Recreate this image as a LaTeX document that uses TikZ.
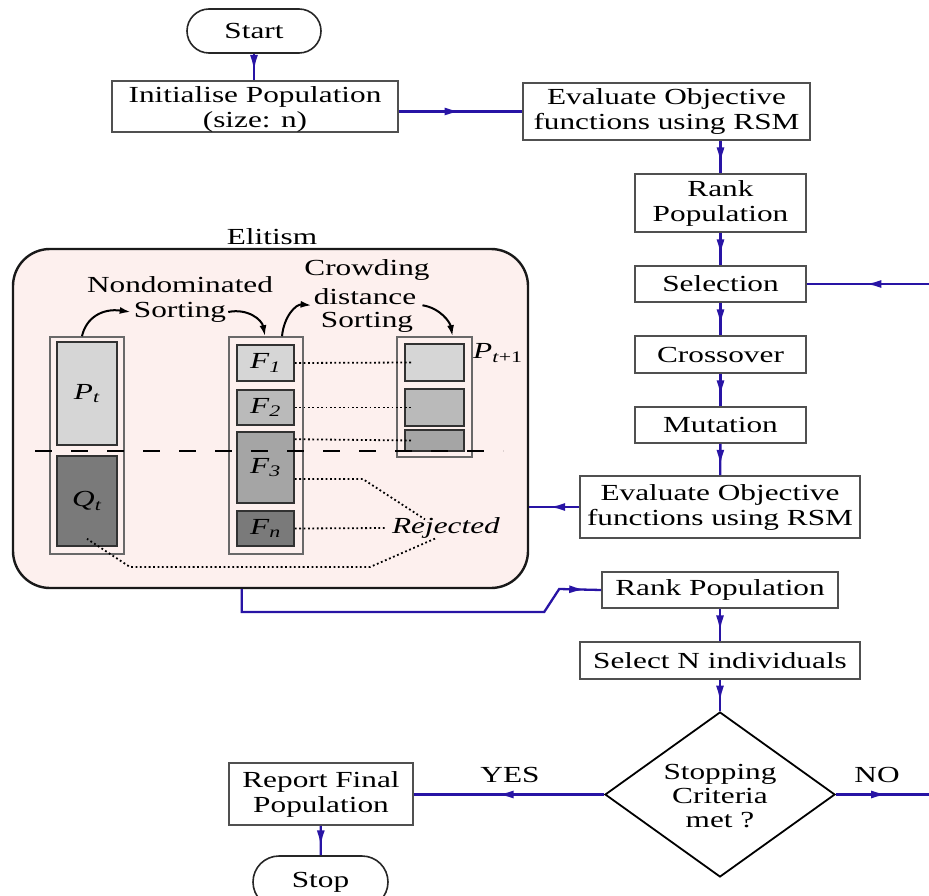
\documentclass[tikz,border=0pt]{standalone}
\usepackage{fontspec}
\setmainfont[FakeStretch=1.36]{Liberation Serif}
\usetikzlibrary{arrows.meta,decorations.markings,shapes.geometric,calc}
\definecolor{flowblue}{RGB}{40,20,165}
\definecolor{boxgray}{RGB}{80,80,80}
\definecolor{colgray}{RGB}{105,105,105}
\definecolor{cellgray}{RGB}{50,50,50}
\definecolor{elitfill}{RGB}{253,240,238}
\definecolor{gA}{RGB}{214,214,214}
\definecolor{gB}{RGB}{186,186,186}
\definecolor{gC}{RGB}{165,165,165}
\definecolor{gD}{RGB}{122,122,122}
\begin{document}
\begin{tikzpicture}[x=1pt,y=-1pt,
  every node/.style={font=\fontsize{23}{25}\selectfont, inner sep=0pt},
  box/.style={draw=boxgray, line width=1.6pt, fill=white, align=center},
  term/.style={draw=black!85, line width=1.6pt, fill=white},
  flow/.style={draw=flowblue, line width=2.3pt},
  midarrow/.style={postaction={decorate}, decoration={markings, mark=at position #1 with {\arrow{Latex[length=16pt,width=8pt]}}}},
  colbox/.style={draw=colgray, line width=1.6pt},
  cell/.style={draw=cellgray, line width=1.6pt},
  dotline/.style={black, line width=1.8pt, dash pattern=on 1.8pt off 2.6pt},
  curvearrow/.style={black, line width=2pt, -{Latex[length=11pt,width=7pt]}},
]
\useasboundingbox (0,0) rectangle (929,896);

% ---------- Elitism container ----------
\node[draw=black!90, line width=2.4pt, fill=elitfill, rounded corners=37pt,
      minimum width=515pt, minimum height=339pt] (elit) at (270.5,418.5) {};
\node (elitlbl) at (272,237) {Elitism};

% columns
\node[colbox, minimum width=74pt, minimum height=217pt] (ptcol) at (87,445.5) {};
\node[cell, fill=gA, minimum width=60pt, minimum height=103pt] (pt) at (87,393.5) {\textit{P}\textsubscript{\textit{t}}};
\node[cell, fill=gD, minimum width=60pt, minimum height=90pt] (qt) at (87,501) {\textit{Q}\textsubscript{\textit{t}}};

\node[colbox, minimum width=74pt, minimum height=217pt] (fcol) at (266,445.5) {};
\node[cell, fill=gA, minimum width=57pt, minimum height=36pt] (f1) at (265.5,363) {\textit{F}\textsubscript{\textit{1}}};
\node[cell, fill=gB, minimum width=57pt, minimum height=35pt] (f2) at (265.5,407.5) {\textit{F}\textsubscript{\textit{2}}};
\node[cell, fill=gC, minimum width=57pt, minimum height=71pt] (f3) at (265.5,467.5) {\textit{F}\textsubscript{\textit{3}}};
\node[cell, fill=gD, minimum width=57pt, minimum height=35pt] (fn) at (265.5,528.5) {\textit{F}\textsubscript{\textit{n}}};

\node[colbox, minimum width=75pt, minimum height=120pt] (pcol) at (434.5,397) {};
\node[cell, fill=gA, minimum width=59pt, minimum height=37pt] (p1) at (434.5,362.5) {};
\node[cell, fill=gB, minimum width=59pt, minimum height=37pt] (p2) at (434.5,407.5) {};
\node[cell, fill=gC, minimum width=59pt, minimum height=21pt] (p3) at (434.5,440.5) {};
\node[anchor=west] (pnext) at (473,353) {\textit{P}\textsubscript{\textit{t}+1}};

% sorting labels
\node (nd1) at (180,285) {Nondominated};
\node (nd2) at (180,312) {Sorting};
\node (cd1) at (367,270) {Crowding};
\node (cd2) at (365,297) {distance};
\node (cd3) at (367,322) {Sorting};

\draw[curvearrow] ([xshift=-5pt]ptcol.north) .. controls (86,318) and (102,308) .. ([xshift=-3pt]nd2.west);
\draw[curvearrow] ([xshift=2pt]nd2.east) .. controls (248,308) and (262,320) .. ([xshift=-1pt]fcol.north);
\draw[curvearrow] ([xshift=16pt]fcol.north) .. controls (284,316) and (296,304) .. ([xshift=-2pt]cd2.south west);
\draw[curvearrow] ([xshift=6pt]cd2.south east) .. controls (440,308) and (450,322) .. ([xshift=18pt]pcol.north);

% rejected
\node (rej) at (446,528) {\textit{Rejected}};
\draw[dotline] (f1.east) -- ([xshift=7pt]p1.west);
\draw[dotline] (f2.east) -- ([xshift=7pt]p2.west);
\draw[dotline] ([yshift=-8pt]f3.north east) -- ([xshift=7pt]p3.west);
\draw[dotline] ([yshift=-11.5pt]f3.east) -- ++(68,0) -- ([xshift=-21pt,yshift=-2pt]rej.north);
\draw[dotline] (fn.east) -- ([xshift=-5pt]rej.west);
\draw[dotline] ([xshift=-11pt]rej.south) -- (370,567) -- (130,567) -- ([yshift=8pt]qt.south);

% dashed cut line
\coordinate (dashL) at (35,451);
\coordinate (dashR) at (503,451);
\draw[black, line width=2.6pt, dash pattern=on 17pt off 19pt] (dashL) -- (dashR);

% ---------- flowchart ----------
\node[term, rounded corners=22pt, minimum width=134pt, minimum height=44pt] (start) at (254,31) {Start};
\node[box, minimum width=286pt, minimum height=51pt] (init) at (255,106.5) {};
\node[align=center] (inittxt) at (255,109) {Initialise Population\\(size: n)};
\node[box, minimum width=287pt, minimum height=57pt] (eval1) at (666.5,111.5) {Evaluate Objective\\functions using RSM};
\node[box, minimum width=171pt, minimum height=58pt] (rank1) at (720.5,203) {Rank\\Population};
\node[box, minimum width=171pt, minimum height=36pt] (sel) at (720.5,284) {Selection};
\node[box, minimum width=171pt, minimum height=37pt] (cross) at (720.5,354.5) {Crossover};
\node[box, minimum width=171pt, minimum height=36pt] (mut) at (720.5,425) {Mutation};
\node[box, minimum width=280pt, minimum height=62pt] (eval2) at (720,507) {Evaluate Objective\\functions using RSM};
\node[box, minimum width=236pt, minimum height=36pt] (rank2) at (720,590) {Rank Population};
\node[box, minimum width=280pt, minimum height=37pt] (seln) at (720,660.5) {Select N individuals};
\node[draw=black, line width=1.8pt, diamond, fill=white, minimum width=230pt, minimum height=165pt] (dec) at (720,794.5) {};
\node[align=center, font=\fontsize{23}{24}\selectfont] (dectxt) at (720,796) {Stopping\\Criteria\\met ?};
\node[box, minimum width=184pt, minimum height=62pt] (report) at (321,794) {Report Final\\Population};
\node[term, rounded corners=26pt, minimum width=135pt, minimum height=52pt] (stop) at (320.5,882) {Stop};
\node (yes) at (510,775) {YES};
\node (no) at (877,775) {NO};
\coordinate (selin) at (929,284);
\coordinate (noout) at (929,794.5);

\draw[flow, midarrow=0.65] (start.south) -- (start.south |- init.north);
\draw[flow, midarrow=0.5] (eval1.west -| init.east) -- (eval1.west);
\draw[flow, midarrow=0.7] (rank1.north |- eval1.south) -- (rank1.north);
\draw[flow, midarrow=0.7] (rank1) -- (sel);
\draw[flow, midarrow=0.7] (sel) -- (cross);
\draw[flow, midarrow=0.7] (cross) -- (mut);
\draw[flow, midarrow=0.7] (mut) -- (eval2);
\draw[flow, midarrow=0.6] (eval2.west) -- (eval2.west -| elit.east);
\draw[flow, midarrow=-16pt] ([xshift=230pt]elit.south west) |- ($(rank2.west)+(-57,22)$) -- ($(rank2.west)+(-42,-1)$) -- (rank2.west);
\draw[flow, midarrow=0.7] (rank2) -- (seln);
\draw[flow, midarrow=0.7] (seln) -- (dec.north);
\draw[flow, midarrow=0.56] (dec.west) -- (dec.west -| report.east);
\draw[flow, midarrow=0.55] (dec.east) -- (noout);
\draw[flow, midarrow=0.7] (report) -- (stop);
\draw[flow, midarrow=0.52] (selin) -- (sel.east);
\end{tikzpicture}
\end{document}
